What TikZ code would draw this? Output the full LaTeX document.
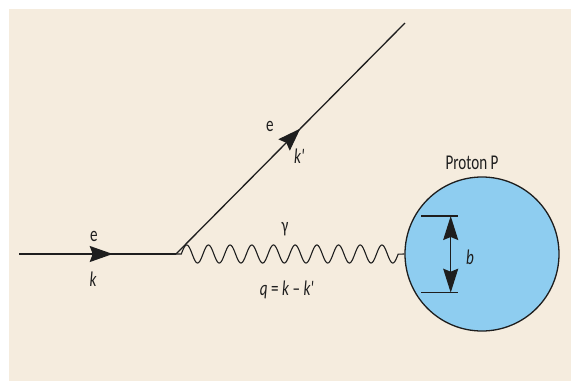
\documentclass[tikz,border=0pt]{standalone}
\usepackage{fontspec}
\setmainfont[FakeStretch=0.72]{Carlito}
\usetikzlibrary{arrows.meta,decorations.markings}
\definecolor{bg}{HTML}{F5ECDE}
\definecolor{proton}{HTML}{8ECDF0}
\definecolor{ink}{HTML}{1E1E1E}
\begin{document}
\begin{tikzpicture}[x=1pt,y=-1pt,
  lbl/.style={font=\fontsize{21}{21}\selectfont, text=ink, inner sep=0pt, anchor=base},
  fline/.style={draw=ink, line width=1.3pt},
  midarrow/.style={postaction={decorate}, decoration={markings,
     mark=at position #1 with {\arrow{Stealth[length=23pt,width=16pt,inset=3pt]}}}}]
\useasboundingbox (0,0) rectangle (571,381);
\fill[bg] (9,9) rectangle (571,381);
% nodes and coordinates
\coordinate (in) at (19,254);
\coordinate (v) at (176,254);
\coordinate (out) at (405,23);
\coordinate (ws) at (181.3,254);
\node[circle, draw=ink, line width=1.3pt, fill=proton, minimum size=154pt, inner sep=0pt] (P) at (482,254) {};
% electron lines
\draw[fline, midarrow=0.597] (in) -- (v);
\draw[fline, midarrow=0.543] (v) -- (out);
% photon
\draw[draw=ink, line width=1.1pt] (v) -- (ws) -- plot[domain=0:10, samples=400, smooth] ({181.3+21.69*\x}, {254-9*sin(360*\x)}) -- (P.west);
% size b
\coordinate (btl) at (421,216);
\coordinate (btr) at (458,216);
\coordinate (bbl) at (421,292.7);
\coordinate (bbr) at (458,292.7);
\coordinate (bt) at (450.7,216);
\coordinate (bb) at (450.7,292.7);
\draw[ink, line width=1.4pt] (btl) -- (btr);
\draw[ink, line width=1.4pt] (bbl) -- (bbr);
\draw[fline, {Stealth[length=24pt,width=15pt,inset=3pt]}-{Stealth[length=24pt,width=15pt,inset=3pt]}] (bt) -- (bb);
% labels
\node[lbl] (e1) at (94,241) {e};
\node[lbl] (k1) at (93,286) {\itshape k};
\node[lbl] (e2) at (270,131.7) {e};
\node[lbl] (k2) at (300,163) {\itshape k\textquotesingle};
\node[lbl] (g) at (285,232) {γ};
\node[lbl] (q) at (287.5,295) {\itshape q\,\upshape=\,\itshape k\,\upshape\textendash\,\itshape k\textquotesingle};
\node[lbl] (pl) at (472,169.7) {Proton P};
\node[lbl] (bl) at (470,264) {\itshape b};
\end{tikzpicture}
\end{document}
